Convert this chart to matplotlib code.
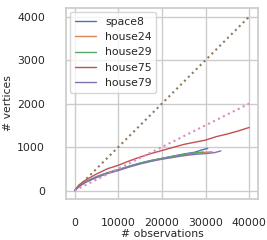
import matplotlib
matplotlib.use("Agg")
import matplotlib.pyplot as plt
import seaborn as sns

sns.set_theme(style="whitegrid")
plt.rcParams['font.family'] = ['DejaVu Sans']

names = ["space8", "house24", "house29", "house75", "house79"]

space8_x = [0, 1000, 2500, 5000, 7500, 10000, 12500, 15000, 17500, 20000, 22500, 25000, 27500, 29000, 30500]
space8_y = [0, 100, 200, 320, 410, 480, 560, 630, 690, 740, 790, 840, 880, 930, 970]

house24_x = [0, 1000, 2500, 5000, 7500, 10000, 12500, 15000, 17500, 20000, 22500, 25000, 27500, 30000, 31500]
house24_y = [0, 90, 190, 300, 395, 470, 550, 620, 680, 730, 780, 820, 860, 880, 890]

house29_x = [0, 1000, 2500, 5000, 7500, 10000, 12500, 15000, 17500, 20000, 22500, 25000, 27500, 29500]
house29_y = [0, 95, 195, 310, 400, 475, 555, 630, 690, 735, 785, 830, 865, 885]

house75_x = [0, 1000, 2500, 5000, 7500, 10000, 12500, 15000, 17500, 20000, 22500, 25000, 27500, 30000, 32500, 35000, 37500, 40000]
house75_y = [0, 130, 240, 380, 500, 580, 680, 770, 850, 920, 990, 1060, 1110, 1160, 1240, 1300, 1370, 1450]

house79_x = [0, 1000, 2500, 5000, 7500, 10000, 12500, 15000, 17500, 20000, 22500, 25000, 27500, 30000, 32000, 33500]
house79_y = [0, 90, 190, 300, 390, 460, 540, 610, 670, 720, 760, 800, 830, 850, 870, 910]

ref_x = [0, 40000]
ref_hi = [0, 4000]
ref_lo = [0, 2000]

series = [(space8_x, space8_y), (house24_x, house24_y), (house29_x, house29_y),
          (house75_x, house75_y), (house79_x, house79_y)]

fig = plt.figure(figsize=(2.67, 2.40), dpi=100)
ax = fig.add_axes([0.247, 0.17, 0.719, 0.797])
pal = sns.color_palette()
for i, (name, (x, y)) in enumerate(zip(names, series)):
    ax.plot(x, y, color=pal[i], lw=1.0, label=name)
ax.plot(ref_x, ref_hi, color=pal[5], ls=':', lw=1.5)
ax.plot(ref_x, ref_lo, color=pal[6], ls=':', lw=1.5)

ax.set_xticks([0, 10000, 20000, 30000, 40000])
ax.set_yticks([0, 1000, 2000, 3000, 4000])
ax.tick_params(axis='x', labelsize=7.8, pad=7.5)
ax.tick_params(axis='y', labelsize=7.8, pad=9)
ax.set_xlabel("# observations", fontsize=7.8, labelpad=0.5)
ax.set_ylabel("# vertices", fontsize=7.8, labelpad=3)
ax.legend(fontsize=7.8, loc="upper left", borderaxespad=0.4)
fig.savefig("out.png", dpi=100)
